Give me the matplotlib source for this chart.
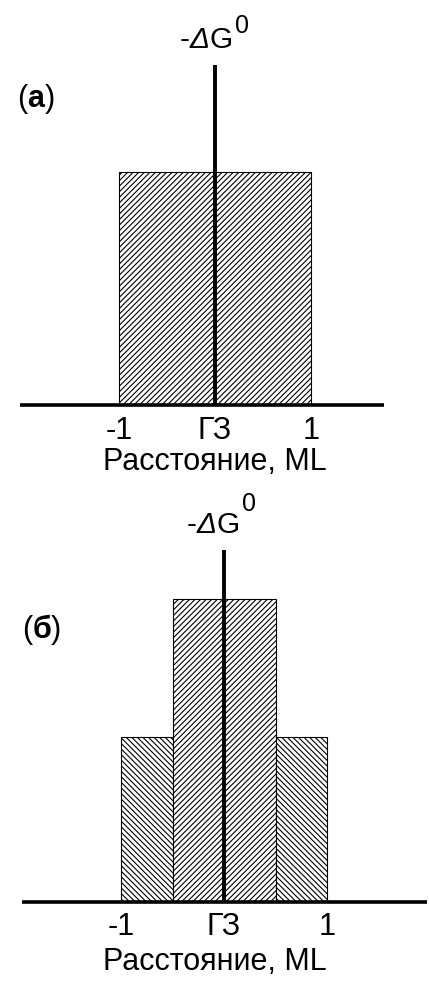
import matplotlib
matplotlib.use("Agg")
import matplotlib.pyplot as plt

plt.rcParams["font.family"] = ["Liberation Sans", "DejaVu Sans"]
plt.rcParams["mathtext.fontset"] = "custom"
plt.rcParams["mathtext.rm"] = "Liberation Sans"
plt.rcParams["mathtext.it"] = "Liberation Sans:italic"
plt.rcParams["mathtext.bf"] = "Liberation Sans:bold"
plt.rcParams["hatch.linewidth"] = 0.8

# Data: energy profile blocks vs distance (ML units)
tick_pos = [-1, 0, 1]
tick_labels = ["-1", "ГЗ", "1"]
xlabel = "Расстояние, ML"
ylabel_parts = [("-", "normal"), ("Δ", "italic"), ("G", "normal")]
ylabel_sup = "0"

# (а) one block spanning -1..1
a_left = [-1.0]
a_width = [2.0]
a_height = [1.0]
a_hatch = ["//////"]
a_axis_top = 1.46

# (б) three blocks: outer ones lower, inner one higher
b_left = [-1.0, -0.5, 0.5]
b_width = [0.5, 1.0, 0.5]
b_height = [0.71, 1.30, 0.71]
b_hatch = ["\\" * 6, "//////", "\\" * 6]
b_axis_top = 1.51

W, H = 429, 981
fig = plt.figure(figsize=(W / 100, H / 100), dpi=100)


def axis_title(ax, xy, sup_xy):
    """-ΔG with an italic delta, followed by a raised 0."""
    prev = None
    for s, style in ylabel_parts:
        if prev is None:
            prev = ax.text(xy[0], xy[1], s, fontsize=21.5, fontstyle=style,
                           ha="left", va="baseline")
        else:
            prev = ax.annotate(s, xy=(1, 0), xycoords=prev, fontsize=21.5,
                               fontstyle=style, ha="left", va="bottom")
    ax.text(sup_xy[0], sup_xy[1], ylabel_sup, fontsize=18, ha="left",
            va="baseline")


def panel(base_px, top_px, x0_px, ppu_x, ppu_y, left, width, height, hatch,
          axis_top, hline, tag, tag_xy, title_xy, sup_xy, tick_pad, lab_pad):
    ax = fig.add_axes([0, (H - base_px) / H, 1, (base_px - top_px) / H])
    ax.set_xlim(-x0_px / ppu_x, (W - x0_px) / ppu_x)
    ax.set_ylim(0, (base_px - top_px) / ppu_y)
    for l, w, h, ht in zip(left, width, height, hatch):
        ax.bar(l, h, width=w, align="edge", facecolor="white",
               edgecolor="black", linewidth=0.8, hatch=ht, zorder=2)
    ax.plot(hline, [0, 0], color="black", lw=2.6, solid_capstyle="butt",
            clip_on=False, zorder=3)
    ax.plot([0, 0], [0, axis_top], color="black", lw=2.8,
            solid_capstyle="butt", clip_on=False, zorder=3)
    ax.set_xticks(tick_pos, tick_labels, fontsize=22)
    ax.tick_params(axis="x", length=0, pad=tick_pad)
    ax.set_yticks([])
    ax.set_xlabel(xlabel, fontsize=22, labelpad=lab_pad)
    for s in ax.spines.values():
        s.set_visible(False)
    ax.patch.set_visible(False)
    axis_title(ax, title_xy, sup_xy)
    ax.text(tag_xy[0], tag_xy[1], tag, fontsize=22, ha="left",
            va="baseline")
    return ax


panel(405, 0, 215, 96, 233, a_left, a_width, a_height, a_hatch, a_axis_top,
      [-2.03, 1.76], "($\\mathbf{а}$)", (-2.06, 1.281), (-0.365, 1.532),
      (0.208, 1.597), 8, 1)
panel(902, 490, 224, 103, 233, b_left, b_width, b_height, b_hatch, b_axis_top,
      [-1.96, 1.97], "($\\mathbf{б}$)", (-1.96, 1.133), (-0.36, 1.584),
      (0.175, 1.678), 7, 4)

fig.savefig("out.png", dpi=100)
